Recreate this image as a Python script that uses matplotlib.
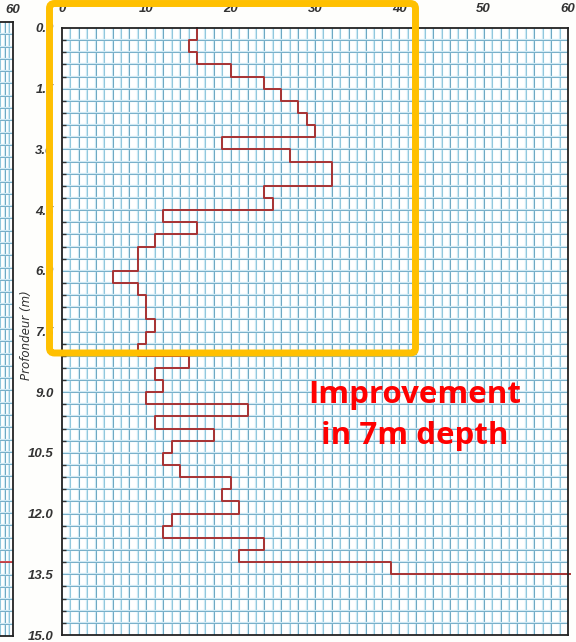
import numpy as np
import matplotlib.pyplot as plt
from matplotlib.patches import FancyBboxPatch
from matplotlib.transforms import IdentityTransform

# layer tops every 0.3 m, reading of each layer
depth_top = np.round(np.arange(0, 13.5, 0.3), 1)
resistance = [16, 15, 16, 20, 24, 26, 28, 29, 30, 19,
              27, 32, 32, 24, 25, 12, 16, 11, 9, 9,
              6, 9, 10, 10, 11, 10, 9, 15, 11, 12,
              10, 22, 11, 18, 13, 12, 14, 20, 19, 21,
              13, 12, 24, 21, 39]
last_depth = 13.5
last_value = 60.2
xticks = [0, 10, 20, 30, 40, 50, 60]
yticks = np.arange(0, 15.1, 1.5)
note = ['Improvement', 'in 7m depth']

W, H = 576, 642
fig = plt.figure(figsize=(5.76, 6.42), dpi=100, facecolor='#fefefc')

tick_font = dict(family=['Liberation Sans Narrow', 'Liberation Sans'],
                 style='italic', weight='bold', size=9.5, color='#333333')


def px_axes(l, t, r, b):
    return fig.add_axes([l / W, 1 - b / H, (r - l) / W, (b - t) / H])


def paper_grid(a):
    a.set_facecolor('#ffffff')
    for x in np.arange(1, 60, 1):
        a.axvline(x, color='#cfe9f4', lw=1.6, zorder=1)
        c = '#5c9dba' if x % 2 == 0 else '#86c2d9'
        a.axvline(x, color=c, lw=0.6, zorder=1)
    for y in np.arange(0.3, 15, 0.3):
        a.axhline(y, color='#cfe9f4', lw=1.6, zorder=1)
        a.axhline(y, color='#6aa6c1', lw=0.6, zorder=1)
    a.set_xlim(0, 60)
    a.set_ylim(15, 0)
    for s in a.spines.values():
        s.set_color('#222222')
        s.set_linewidth(1.3)
        s.set_zorder(5)


# partial neighbour panel on the left
ax2 = px_axes(-240, 22, 13, 636)
paper_grid(ax2)
ax2.axhline(13.2, color='#d02020', lw=1.1, zorder=3)
ax2.xaxis.tick_top()
ax2.set_xticks([60])
ax2.set_xticklabels(['60'], **tick_font)
ax2.tick_params(axis='x', length=0, pad=4)
ax2.set_yticks([])

# main panel
ax = px_axes(62, 28, 568, 635)
paper_grid(ax)

edges = np.append(depth_top, last_depth)
xs = np.repeat(resistance, 2)
ys = np.column_stack([edges[:-1], edges[1:]]).ravel()
xs = np.append(xs, last_value)
ys = np.append(ys, last_depth)
ax.plot(xs, ys, color='#a83232', lw=1.4, zorder=4, clip_on=False)

ax.xaxis.tick_top()
ax.set_xticks(xticks)
ax.set_xticklabels([str(v) for v in xticks], **tick_font)
ax.tick_params(axis='x', length=0, pad=9)
ax.set_yticks(yticks)
ax.set_yticklabels(['%.1f' % v for v in yticks], **tick_font)
ax.tick_params(axis='y', length=0, pad=6)
ax.set_yticks(np.arange(0, 15, 0.3), minor=True)
ax.tick_params(axis='y', which='minor', direction='in', length=3,
               width=1, color='#333333')

fig.text(27 / W, 1 - 335 / H, 'Profondeur (m)', rotation=90, ha='center',
         va='center', fontsize=8.5, style='italic', color='#333333')

note_font = dict(family=['Open Sans', 'DejaVu Sans'], weight='bold',
                 size=22.5, color='#ff0000', ha='center', va='baseline',
                 zorder=6)
ax.text(41.8, 9.27, note[0], **note_font)
ax.text(41.8, 10.28, note[1], **note_font)

box = FancyBboxPatch((49.5, H - 353), 366, 349.5,
                     boxstyle='round,pad=0,rounding_size=5',
                     lw=5.0, ec='#ffc000', fc='none',
                     transform=IdentityTransform(), zorder=10)
fig.add_artist(box)

fig.savefig('out.png', dpi=100)
